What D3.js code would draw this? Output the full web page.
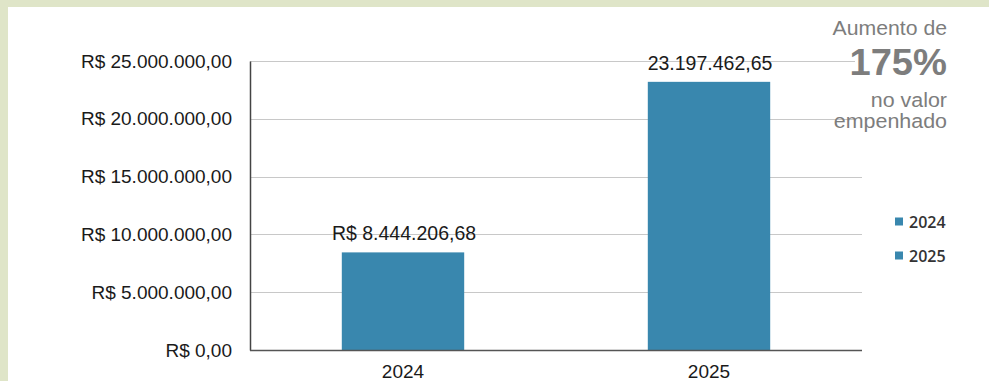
<!DOCTYPE html>
<html><head><meta charset="utf-8">
<script src="https://cdn.jsdelivr.net/npm/d3@7"></script>
<style>
html,body{margin:0;padding:0;background:#dfe5c8;}
svg{display:block;}
</style></head>
<body>
<svg id="chart" width="989" height="381"></svg>
<script>
const categories = ["2024", "2025"];
const values = [8444206.68, 23197462.65];
const valueLabels = ["R$ 8.444.206,68", "23.197.462,65"];
const yTicks = [0, 5000000, 10000000, 15000000, 20000000, 25000000];
const yTickLabels = ["R$ 0,00", "R$ 5.000.000,00", "R$ 10.000.000,00", "R$ 15.000.000,00", "R$ 20.000.000,00", "R$ 25.000.000,00"];
const legendItems = ["2024", "2025"];
const noteLines = ["Aumento de", "175%", "no valor", "empenhado"];

(function () {
const svg = d3.select("#chart");
const font = "'Liberation Sans', Arial, sans-serif";
const barColor = "#3987ae";

svg.append("rect").attr("x", 0).attr("y", 0).attr("width", 989).attr("height", 381).attr("fill", "#dfe5c8");
svg.append("rect").attr("x", 8).attr("y", 7).attr("width", 981).attr("height", 374).attr("fill", "#ffffff");

const pLeft = 250, pRight = 862, pTop = 61, pBottom = 350;
const x = d3.scaleBand().domain(categories).range([pLeft, pRight]).paddingInner(0.6).paddingOuter(0.3);
const y = d3.scaleLinear().domain([0, 25000000]).range([pBottom, pTop]);

// gridlines
svg.append("g").selectAll("line").data(yTicks.filter(d => d > 0)).join("line")
  .attr("x1", pLeft).attr("x2", d => d >= 20000000 ? 855 : pRight)
  .attr("y1", d => Math.round(y(d)) + 0.5).attr("y2", d => Math.round(y(d)) + 0.5)
  .attr("stroke", "#c8c8c8").attr("stroke-width", 1);

// bars
svg.append("g").selectAll("rect").data(categories).join("rect")
  .attr("x", d => x(d)).attr("width", x.bandwidth())
  .attr("y", (d, i) => y(values[i])).attr("height", (d, i) => y(0) - y(values[i]))
  .attr("fill", barColor);

// y axis
const yAxis = d3.axisLeft(y).tickValues(yTicks).tickSize(0).tickPadding(18)
  .tickFormat((d, i) => yTickLabels[i]);
const yg = svg.append("g").attr("transform", `translate(${pLeft},0)`).call(yAxis);
yg.select(".domain").attr("stroke", "#444").attr("stroke-width", 1.5);
yg.selectAll("text").attr("font-family", font).attr("font-size", 19).attr("fill", "#1a1a1a");

// x axis
const xAxis = d3.axisBottom(x).tickSize(0).tickPadding(14.5);
const xg = svg.append("g").attr("transform", `translate(0,${pBottom})`).call(xAxis);
xg.select(".domain").attr("stroke", "#555").attr("stroke-width", 1.5).attr("d", `M${pLeft},0.5H${pRight}`);
xg.selectAll("text").attr("font-family", font).attr("font-size", 19).attr("fill", "#1a1a1a");

// value labels
svg.append("g").selectAll("text").data(categories).join("text")
  .attr("x", d => x(d) + x.bandwidth() / 2 + 1)
  .attr("y", (d, i) => y(values[i]) - 12)
  .attr("text-anchor", "middle").attr("font-family", font).attr("font-size", 19.5).attr("fill", "#1a1a1a")
  .text((d, i) => valueLabels[i]);

// note
const noteX = 947;
const noteSpec = [
  {y: 35, size: 19.5, weight: "normal", sx: 1.09},
  {y: 75, size: 36, weight: "bold", sx: 1.06},
  {y: 107, size: 19.5, weight: "normal", sx: 1.1},
  {y: 128, size: 19.5, weight: "normal", sx: 1.1}
];
const noteG = svg.append("g").attr("font-family", font).attr("fill", "#7d7d7d").attr("text-anchor", "end");
noteLines.forEach((t, i) => {
  const s = noteSpec[i];
  noteG.append("text")
    .attr("transform", `translate(${noteX},${s.y}) scale(${s.sx},1)`)
    .attr("font-size", s.size).attr("font-weight", s.weight).text(t);
});

// legend
const lg = svg.append("g").selectAll("g").data(legendItems).join("g")
  .attr("transform", (d, i) => `translate(895,${221.5 + i * 34})`);
lg.append("rect").attr("x", 0).attr("y", -4).attr("width", 8).attr("height", 8).attr("fill", barColor);
lg.append("text").attr("x", 14).attr("y", 6).attr("font-family", "'Open Sans', sans-serif").attr("font-weight", 600).attr("font-size", 16).attr("fill", "#333").text(d => d);
})();
</script>
</body></html>
